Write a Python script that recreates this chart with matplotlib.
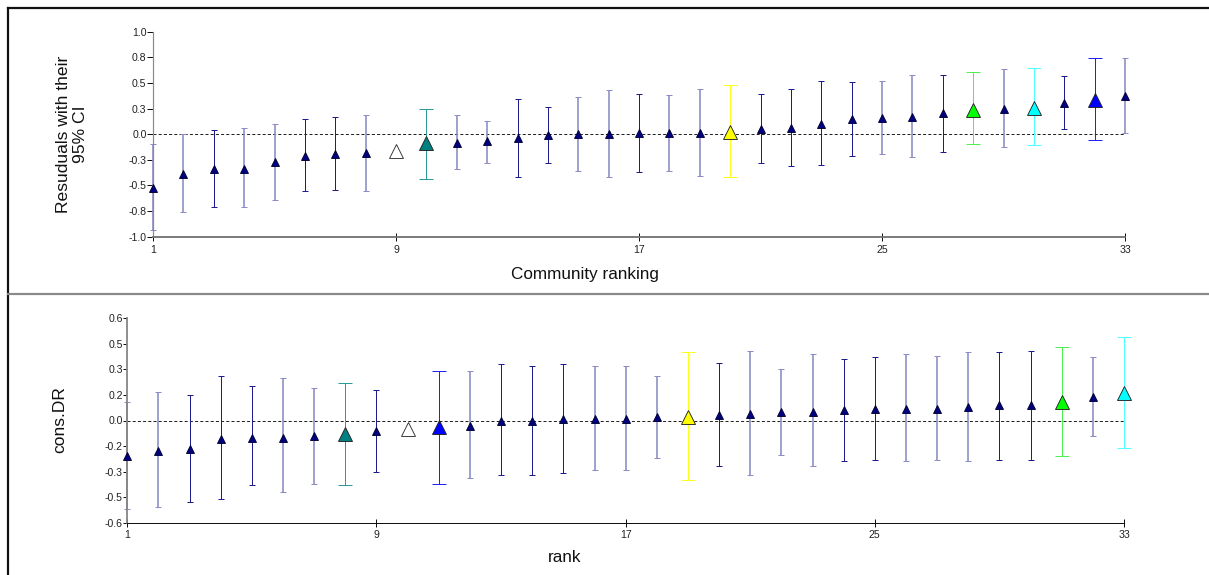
import math
import matplotlib
matplotlib.use("Agg")
import matplotlib.pyplot as plt
from matplotlib.lines import Line2D

plt.rcParams['font.family'] = ['Liberation Sans', 'DejaVu Sans']

NAN = float('nan')

# ---------------- data ----------------
ranks = list(range(1, 34))
x_ticks = [1, 9, 17, 25, 33]

# upper panel: community residuals with 95% CI
resid_est = [-0.52, -0.39, -0.34, -0.34, -0.27, -0.21, -0.19, -0.18, -0.16, -0.09,
             -0.09, -0.07, -0.04, -0.01, 0.00, 0.00, 0.01, 0.01, 0.01, 0.02,
             0.05, 0.06, 0.10, 0.15, 0.16, 0.17, 0.21, 0.24, 0.25, 0.26,
             0.30, 0.33, 0.37]
resid_lo = [-0.93, -0.76, -0.71, -0.71, -0.64, -0.55, -0.54, -0.55, NAN, -0.44,
            -0.34, -0.28, -0.42, -0.28, -0.36, -0.42, -0.37, -0.36, -0.41, -0.42,
            -0.28, -0.31, -0.30, -0.21, -0.19, -0.22, -0.17, -0.10, -0.12, -0.11,
            0.05, -0.06, 0.01]
resid_hi = [-0.10, 0.00, 0.04, 0.06, 0.10, 0.15, 0.17, 0.19, NAN, 0.25,
            0.19, 0.13, 0.34, 0.27, 0.36, 0.43, 0.39, 0.38, 0.44, 0.48,
            0.39, 0.44, 0.52, 0.51, 0.52, 0.58, 0.58, 0.61, 0.64, 0.65,
            0.57, 0.74, 0.74]
resid_yticks = [-1.0, -0.75, -0.5, -0.25, 0.0, 0.25, 0.5, 0.75, 1.0]
resid_yticklabels = ['-1.0', '-0.8', '-0.5', '-0.3', '0.0', '0.3', '0.5', '0.8', '1.0']
resid_highlight = {9: 'white', 10: 'teal', 20: 'yellow', 28: 'green', 30: 'cyan', 32: 'blue'}

# lower panel: cons.DR by rank
dr_est = [-0.21, -0.18, -0.17, -0.11, -0.10, -0.10, -0.09, -0.08, -0.06, -0.05,
          -0.04, -0.03, 0.00, 0.00, 0.01, 0.01, 0.01, 0.02, 0.02, 0.03,
          0.04, 0.05, 0.05, 0.06, 0.07, 0.07, 0.07, 0.08, 0.09, 0.09,
          0.11, 0.14, 0.16]
dr_lo = [-0.52, -0.51, -0.48, -0.46, -0.38, -0.42, -0.37, -0.38, -0.30, NAN,
         -0.37, -0.34, -0.32, -0.32, -0.31, -0.29, -0.29, -0.22, -0.35, -0.27,
         -0.32, -0.20, -0.27, -0.24, -0.23, -0.24, -0.23, -0.24, -0.23, -0.23,
         -0.21, -0.09, -0.16]
dr_hi = [0.11, 0.17, 0.15, 0.26, 0.20, 0.25, 0.19, 0.22, 0.18, NAN,
         0.29, 0.29, 0.33, 0.32, 0.33, 0.32, 0.32, 0.26, 0.40, 0.34,
         0.41, 0.30, 0.39, 0.36, 0.37, 0.39, 0.38, 0.40, 0.40, 0.41,
         0.43, 0.37, 0.49]
dr_yticks = [-0.6, -0.45, -0.3, -0.15, 0.0, 0.15, 0.3, 0.45, 0.6]
dr_yticklabels = ['-0.6', '-0.5', '-0.3', '-0.2', '0.0', '0.2', '0.3', '0.5', '0.6']
dr_highlight = {8: 'teal', 10: 'white', 11: 'blue', 19: 'yellow', 31: 'green', 33: 'cyan'}

# ---------------- styles ----------------
PX = 0.72  # one pixel in points at 100 dpi
NAVY = '#000080'
HL_FACE = {'white': '#ffffff', 'teal': '#008080', 'yellow': '#ffff00',
           'green': '#00ff00', 'cyan': '#00ffff', 'blue': '#0000ff'}
HL_BAR = {'white': '#ffffff', 'teal': '#2a9a9a', 'yellow': '#ffff20',
          'green': '#50f050', 'cyan': '#50ffff', 'blue': '#2020ff'}
# plain bars alternate between crisp and soft rendering
BAR_DARK = dict(color='#1c1c8e', lw=1.0 * PX)
BAR_LIGHT = dict(color='#8c8cc8', lw=1.6 * PX)
resid_shade = "LLDLLDDL" + "--" + "LLDDLLDLL" + "-" + "DDDDLLD" + "-L-D-L"
dr_shade = "LLDDDLL" + "-" + "D" + "--" + "LDDDLLL" + "-" + "DLLLDDLLLDD" + "-L-"

W, H = 1209, 575
fig = plt.figure(figsize=(W / 100, H / 100), dpi=100)


def fx(px):
    return px / W


def fy(py):
    return 1 - py / H


def draw_panel(ax, est, lo, hi, highlight, shade):
    ax.plot([ranks[0], ranks[-1]], [0, 0], color='#222222', lw=1.0 * PX,
            dashes=(3, 2.2), zorder=1, clip_on=False)
    for r, e, l, h, s in zip(ranks, est, lo, hi, shade):
        name = highlight.get(r)
        if name is not None:
            bar_col, bar_lw, cap = HL_BAR[name], 1.0 * PX, 5.0
            face, ms = HL_FACE[name], 10.2
            edge = '#222222' if name != 'white' else '#303030'
        else:
            st = BAR_LIGHT if s == 'L' else BAR_DARK
            bar_col, bar_lw, cap = st['color'], st['lw'], 2.5
            face, ms, edge = NAVY, 5.6, '#000030'
        if not (math.isnan(l) or math.isnan(h)):
            ax.errorbar([r], [e], yerr=[[e - l], [h - e]], fmt='none',
                        ecolor=bar_col, elinewidth=bar_lw, capsize=cap,
                        capthick=1.0 * PX, zorder=2, clip_on=False)
        ax.plot([r], [e], marker='^', ms=ms, mfc=face, mec=edge,
                mew=0.9 * PX, ls='none', zorder=3, clip_on=False)
    ax.set_xlim(ranks[0], ranks[-1])
    ax.set_xticks(x_ticks)
    ax.spines['top'].set_visible(False)
    ax.spines['right'].set_visible(False)


# ---- upper panel ----
ax1 = fig.add_axes([fx(153), fy(236.7), fx(1125 - 153), (236.7 - 31.7) / H])
draw_panel(ax1, resid_est, resid_lo, resid_hi, resid_highlight, resid_shade)
ax1.set_ylim(-1.0, 1.0)
ax1.set_yticks(resid_yticks)
ax1.set_yticklabels(resid_yticklabels)
ax1.spines['left'].set_color('#8a8a8a')
ax1.spines['left'].set_linewidth(1.2 * PX)
ax1.spines['bottom'].set_color('#707070')
ax1.spines['bottom'].set_linewidth(1.8 * PX)
ax1.tick_params(axis='y', direction='out', length=4.0, width=PX, pad=0.6,
                labelsize=7.6, labelcolor='#222222', color='#111111')
ax1.tick_params(axis='x', direction='inout', length=6.0, width=PX, pad=2.8,
                labelsize=7.6, labelcolor='#222222', color='#111111')
fig.text(fx(72), fy(134), 'Resuduals with their\n95% CI', rotation=90,
         ha='center', va='center', multialignment='center', fontsize=12.6,
         linespacing=1.22, color='#111111')
fig.text(fx(585), fy(274), 'Community ranking', ha='center', va='center',
         fontsize=12.3, color='#111111')

# ---- lower panel ----
ax2 = fig.add_axes([fx(127.3), fy(522.7), fx(1124 - 127.3), (522.7 - 318.3) / H])
draw_panel(ax2, dr_est, dr_lo, dr_hi, dr_highlight, dr_shade)
ax2.set_ylim(-0.6, 0.6)
ax2.set_yticks(dr_yticks)
ax2.set_yticklabels(dr_yticklabels)
ax2.spines['left'].set_color('#858585')
ax2.spines['left'].set_linewidth(1.8 * PX)
ax2.spines['bottom'].set_color('#111111')
ax2.spines['bottom'].set_linewidth(1.0 * PX)
ax2.tick_params(axis='y', direction='out', length=3.0, width=PX, pad=0.3,
                labelsize=7.6, labelcolor='#222222', color='#111111')
ax2.tick_params(axis='x', direction='inout', length=6.0, width=PX, pad=2.1,
                labelsize=7.6, labelcolor='#222222', color='#111111')
fig.text(fx(60), fy(420), 'cons.DR', rotation=90, ha='center', va='center',
         fontsize=12.5, color='#111111')
fig.text(fx(565), fy(558), 'rank', ha='center', va='center',
         fontsize=12.3, color='#111111')

# ---- outer frame and panel separator ----
fig.add_artist(Line2D([fx(8), 1.0], [fy(7.5), fy(7.5)], color='#111111', lw=2.2 * PX))
fig.add_artist(Line2D([fx(8), fx(8)], [fy(7.5), 0.0], color='#111111', lw=2.2 * PX))
fig.add_artist(Line2D([fx(8), 1.0], [fy(294), fy(294)], color='#8a8a8a', lw=2.2 * PX))

fig.savefig('out.png', dpi=100)
